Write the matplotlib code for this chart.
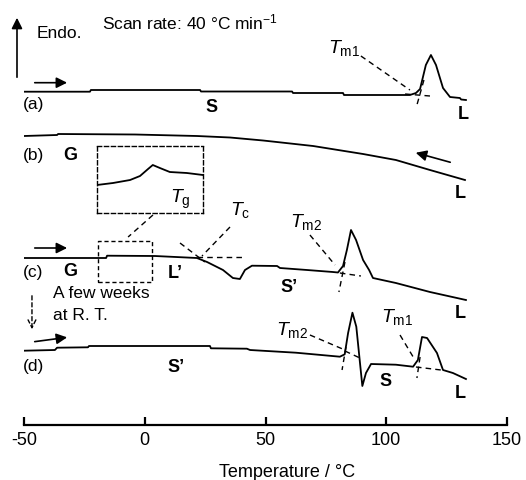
import matplotlib
matplotlib.use('Agg')
import matplotlib.pyplot as plt

plt.rcParams['font.family'] = ['Liberation Sans', 'DejaVu Sans']
plt.rcParams['mathtext.fontset'] = 'custom'
plt.rcParams['mathtext.rm'] = 'Liberation Sans'
plt.rcParams['mathtext.it'] = 'Liberation Sans:italic'
plt.rcParams['axes.unicode_minus'] = False

# DSC traces, temperature (degC) vs heat flow (arbitrary, offset per trace)
temp_a = [-50, -22.7, -22.3, 22.9, 23.3, 61.0, 61.4, 82.1, 82.5, 109.8, 112.3, 114.0,
          116.4, 118.5, 120.6, 123.5, 126.4, 130.5, 131.0, 133.0]
flow_a = [333.3, 333.3, 335, 335, 333.5, 333.5, 332, 332, 330, 330, 332, 336,
          360, 370, 360, 337, 328, 327, 325.5, 325]

temp_b = [-50, -36.3, -35.9, -4.0, 21.6, 35.3, 49.0, 69.7, 90.4, 104.0, 118.1, 132.6]
flow_b = [289, 290, 291, 290.5, 289, 287.5, 284.5, 279, 271, 265, 255, 245]

temp_c = [-50, -16.0, -15.6, 4.2, 21.6, 25.8, 32.4, 36.5, 39.4, 41.5, 44.4, 54.8, 56.0,
          67.2, 77.9, 80.0, 82.1, 83.7, 85.4, 87.5, 90.4, 92.9, 94.5, 104.0, 118.1, 133.0]
flow_c = [167, 167, 169.3, 169, 167, 163, 155, 147, 146, 155, 159.3, 159, 157,
          155, 153, 152.5, 159, 175, 195, 185, 165, 155, 147, 142, 133, 125]

temp_d = [-50, -37.2, -36.3, -23.5, -23.1, 27.0, 27.4, 42.3, 43.6, 62.6, 80.8, 82.8,
          84.2, 86.0, 87.6, 89.0, 90.1, 91.6, 93.7, 104.0, 111.1, 113.1, 114.8, 116.9,
          121.0, 123.5, 127.6, 133.0]
flow_d = [74.3, 75, 77.3, 77.7, 79, 79, 76.7, 76.3, 75, 72.3, 68.3, 70.7,
          92, 112.3, 98.3, 65, 39, 52, 61, 60.3, 58.3, 65, 88, 87,
          72, 55, 52, 46]

# zoomed glass transition region of trace (c)
temp_g = [-19.4, -16.0, -12.4, -10.3, -8.6, -7.6, -6.1, -4.0, -0.4, 3.0]
flow_g = [28, 30, 33, 37, 44, 48, 45, 41, 40, 38]

ticks = [-50, 0, 50, 100, 150]

fig = plt.figure(figsize=(5.26, 4.8), dpi=100)
ax = fig.add_axes([24 / 526, 55 / 480, 483 / 526, 425 / 480])
ax.set_xlim(-50, 150)
ax.set_ylim(0, 425)

lw = 1.3
for t, f in [(temp_a, flow_a), (temp_b, flow_b), (temp_c, flow_c), (temp_d, flow_d)]:
    ax.plot(t, f, color='black', lw=lw)

for s in ['top', 'right', 'left']:
    ax.spines[s].set_visible(False)
ax.spines['bottom'].set_linewidth(1.6)
ax.set_yticks([])
ax.set_xticks(ticks)
ax.set_xticklabels([str(v) for v in ticks], fontsize=13)
ax.tick_params(axis='x', direction='in', length=6, width=1.6, pad=5)
ax.set_xlabel('Temperature / °C', fontsize=13)
ax.xaxis.set_label_coords(0.545, -0.111)
ax.xaxis.label.set_va('center')

# dashed construction lines (onset tangents and leaders)
dashes = [
    # (a) Tm1
    ((89.5, 369), (109.8, 335)), ((107.8, 331), (118.1, 329)), ((115.6, 345), (112.7, 320)),
    # (c) Tc
    ((35.3, 198), (23.7, 169)), ((14.6, 182), (24.9, 163)), ((21.6, 168), (40.3, 168)),
    # (c) Tm2
    ((68.4, 190), (78.8, 160)), ((80.8, 152), (89.5, 149)), ((82.9, 163), (80.4, 133)),
    # (d) Tm2
    ((68.4, 90), (82.9, 75)), ((82.9, 74), (89.1, 67)), ((83.3, 78), (81.7, 55)),
    # (d) Tm1
    ((105.7, 90), (111.9, 65)), ((112.3, 58), (122.7, 55)), ((114.0, 68), (112.7, 47)),
    # inset connector
    ((3.4, 210), (-6.9, 188)),
]
for p, q in dashes:
    ax.plot([p[0], q[0]], [p[1], q[1]], color='black', lw=1.0, ls=(0, (4, 3)))

# small dashed box on trace (c)
ax.plot([-19.4, 3.0, 3.0, -19.4, -19.4], [143, 143, 184, 184, 143],
        color='black', lw=1.0, ls=(0, (3, 2)))

# inset with the zoomed curve
ins = ax.inset_axes([-19.8, 212, 43.9, 67], transform=ax.transData)
ins.plot(temp_g, flow_g, color='black', lw=lw)
ins.set_xlim(-19.4, 3.0)
ins.set_ylim(0, 67)
ins.set_xticks([])
ins.set_yticks([])
ins.patch.set_alpha(0)
for s in ins.spines.values():
    s.set_linestyle((0, (3, 2)))
    s.set_linewidth(1.0)

# arrows
arr = dict(arrowstyle='-|>', color='black', lw=1.2, mutation_scale=16)
for start, end in [((-46.7, 342.3), (-31.0, 342.3)), ((127.6, 262), (111.1, 273)),
                   ((-46.7, 177), (-31.0, 177)), ((-46.7, 83), (-31.0, 88))]:
    ax.annotate('', xy=end, xytext=start, arrowprops=arr)
ax.annotate('', xy=(-52.9, 410), xytext=(-52.9, 345), arrowprops=arr,
            annotation_clip=False)
ax.annotate('', xy=(-46.7, 93), xytext=(-46.7, 132),
            arrowprops=dict(arrowstyle='->', color='black', lw=1.0,
                            ls=(0, (3, 2)), mutation_scale=14))

fs = 12.5
ax.text(-44.6, 392, 'Endo.', fontsize=fs, va='center')
ax.text(-17.7, 403, 'Scan rate: 40 °C min$^{-1}$', fontsize=fs, va='center')

for lab, h in [('(a)', 321), ('(b)', 270), ('(c)', 153), ('(d)', 58)]:
    ax.text(-50.4, h, lab, fontsize=fs, va='center', ha='left')

bold = [('S', 27.8, 318), ('L', 131.8, 311), ('G', -31.0, 270), ('L', 130.5, 232),
        ('G', -31.0, 153), ('L’', 12.5, 151), ('S’', 59.7, 138), ('L', 130.5, 112),
        ('S’', 12.9, 58), ('S', 99.5, 44), ('L', 130.5, 32)]
for lab, x, y in bold:
    ax.text(x, y, lab, fontsize=13, fontweight='bold', ha='center', va='center')

ax.text(-38.0, 132, 'A few weeks', fontsize=fs, va='center')
ax.text(-38.0, 110, 'at R. T.', fontsize=fs, va='center')

sym = [(r'$T_{\rm m1}$', 75.9, 372), (r'$T_{\rm g}$', 10.5, 222),
       (r'$T_{\rm c}$', 35.3, 210), (r'$T_{\rm m2}$', 60.1, 198),
       (r'$T_{\rm m2}$', 54.3, 90), (r'$T_{\rm m1}$', 97.8, 103)]
for lab, x, y in sym:
    ax.text(x, y, lab, fontsize=14, va='baseline', ha='left')

fig.savefig('out.png', dpi=100)
